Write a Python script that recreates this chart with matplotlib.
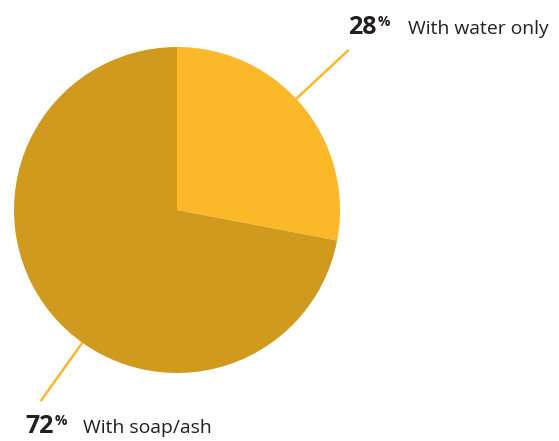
import numpy as np
import matplotlib
matplotlib.use('Agg')
import matplotlib.pyplot as plt

# --- data ---
labels = ['With water only', 'With soap/ash']
values = [28, 72]
colors = ['#FBB829', '#D09A1F']

# angles (deg) where the leader lines leave the pie
line_angles = [43.0, 234.5]

W, H = 559, 441
fig = plt.figure(figsize=(W / 100, H / 100), dpi=100)

cx, cy, r = 177, 210, 163          # pie centre / radius in pixels (from top-left)
ax = fig.add_axes([(cx - r) / W, (H - cy - r) / H, 2 * r / W, 2 * r / H])
ax.pie(values, colors=colors, startangle=90, counterclock=False, radius=1.0,
       wedgeprops=dict(linewidth=0))
ax.set_xlim(-1, 1)
ax.set_ylim(-1, 1)
ax.set_aspect('equal')
ax.axis('off')

for a in line_angles:
    t = np.deg2rad(a)
    ax.plot([np.cos(t), 1.44 * np.cos(t)], [np.sin(t), 1.44 * np.sin(t)],
            color='#FBB829', lw=1.8, clip_on=False, solid_capstyle='butt')

def px(x, y):
    return x / W, 1 - y / H

font = 'Open Sans'
txt_col = '#231F20'
# label positions: (x of value, baseline y, x of text)
label_pos = [(348, 34, 408), (25, 433, 83)]
for val, lab, (xv, yb, xt) in zip(values, labels, label_pos):
    t1 = fig.text(*px(xv, yb), str(val), fontsize=18, fontweight='bold',
                  family=font, color=txt_col, va='baseline', ha='left')
    fig.canvas.draw()
    bb = t1.get_window_extent()
    fig.text((bb.x1 + 1.5) / W, 1 - (yb - 8) / H, '%', fontsize=10,
             fontweight='bold', family=font, color=txt_col, va='baseline', ha='left')
    fig.text(*px(xt, yb), lab, fontsize=13.9, family=font, color=txt_col,
             va='baseline', ha='left')

fig.savefig('out.png', dpi=100)
